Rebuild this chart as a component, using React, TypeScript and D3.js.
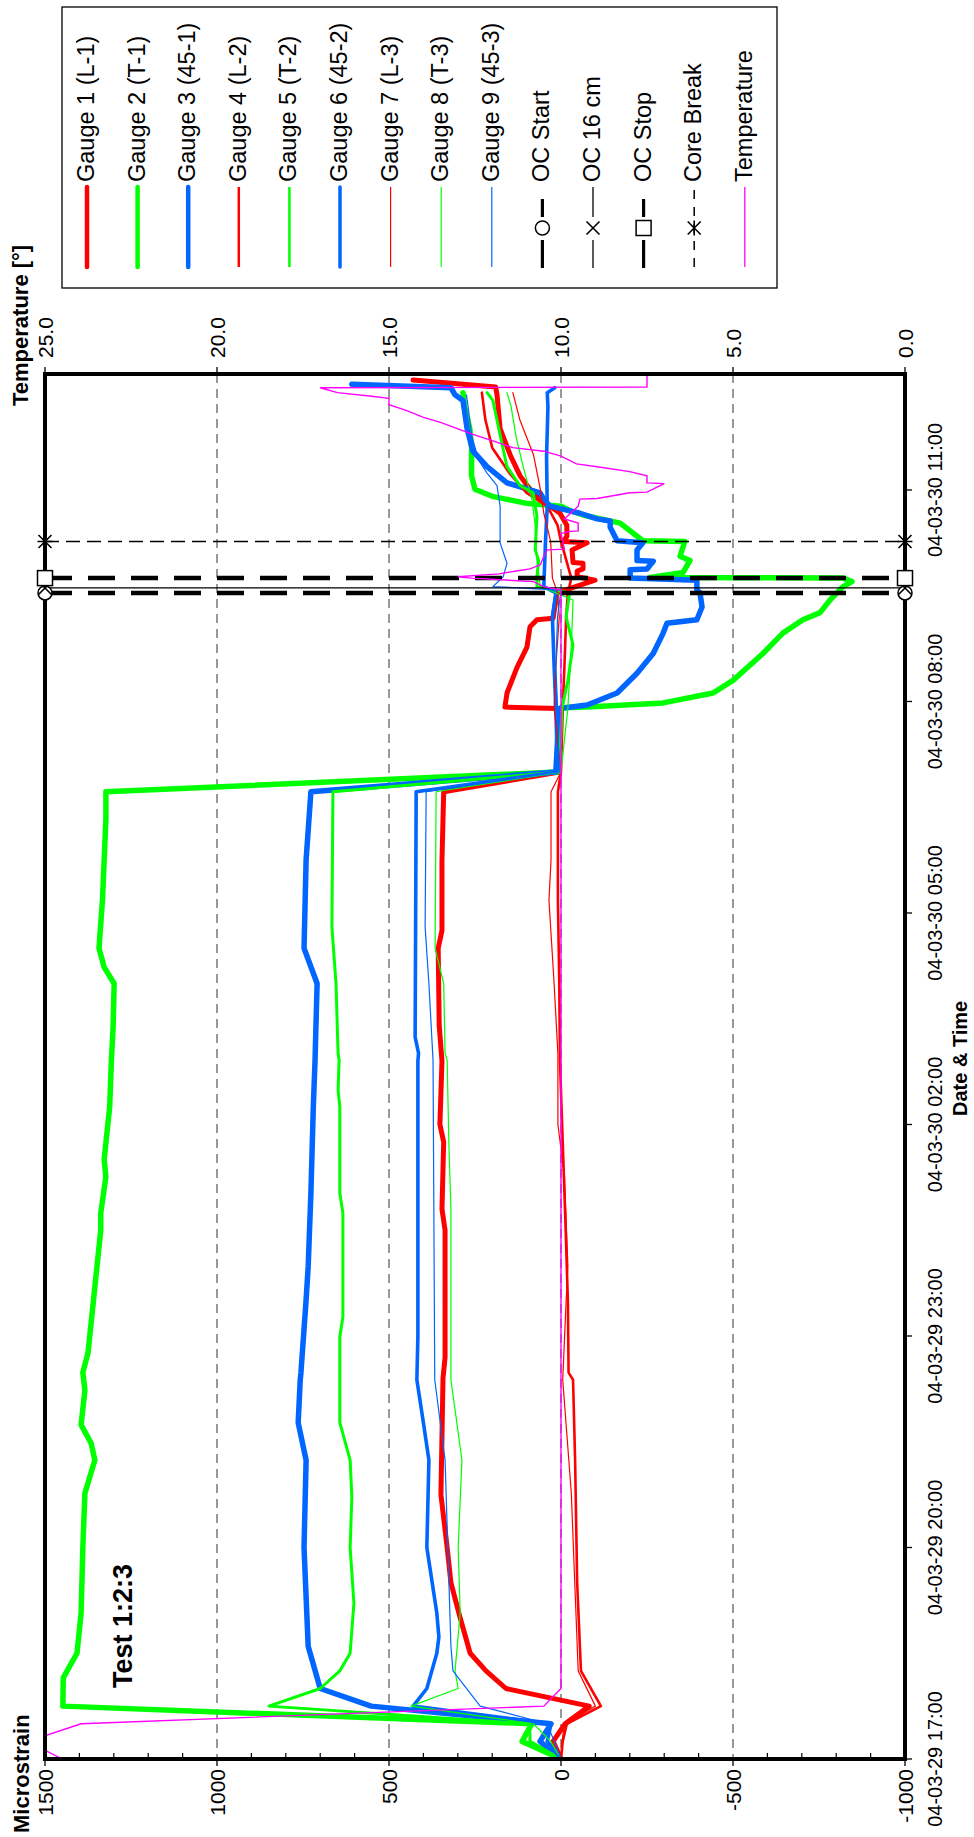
import React from "react";
import * as d3 from "d3";

// ---------- data (time = hours after 04-03-29 17:00, value = microstrain / °C) ----------
const T0 = new Date(2004, 2, 29, 17, 0);
const T_END = 19.645;
const hrs = (h: number) => new Date(T0.getTime() + h * 3600000);

const gauge1 = [[0,0],[0.25,23],[0.5,-12],[0.75,-82],[1.0,160],[1.25,218],[1.5,264],[2.0,293],[2.5,320],[3.0,331],[3.75,349],[5.4,343],[5.7,337],[7.5,337],[7.8,346],[8.75,341],[9.0,352],[9.9,346],[10.4,354],[11.5,357],[11.75,346],[12.75,346],[13.72,341],[14.0,5],[14.5,10],[14.9,10],[14.92,163],[15.12,157],[15.48,128],[15.77,99],[16.06,90],[16.16,70],[16.18,23],[16.44,15],[16.54,12],[16.72,-99],[16.77,-47],[16.85,-47],[16.88,-64],[16.96,-64],[16.97,-35],[17.15,-32],[17.25,-76],[17.27,-6],[17.34,-17],[17.5,-17],[17.67,3],[17.87,61],[18.01,90],[18.2,119],[18.5,148],[18.87,177],[19.35,186],[19.46,190],[19.56,430]];
const gauge2 = [[0,0],[0.25,113],[0.5,85],[0.75,1448],[1.15,1447],[1.3,1430],[1.5,1407],[2.07,1395],[3.0,1390],[3.77,1384],[4.24,1355],[4.48,1366],[4.74,1395],[5.23,1384],[5.48,1390],[5.76,1375],[6.51,1359],[7.5,1338],[7.74,1338],[8.26,1323],[8.5,1328],[9.25,1312],[9.91,1307],[10.38,1302],[11.0,1299],[11.23,1328],[11.5,1343],[12.18,1333],[12.75,1328],[13.32,1323],[13.72,1323],[14.0,9],[14.91,0],[14.92,-76],[14.98,-297],[15.12,-442],[15.3,-500],[15.68,-587],[15.97,-645],[16.16,-703],[16.26,-753],[16.44,-782],[16.63,-820],[16.7,-846],[16.75,-820],[16.76,-259],[16.83,-355],[17.0,-375],[17.06,-346],[17.27,-360],[17.28,-238],[17.53,-172],[17.63,-76],[17.7,-30],[17.77,0],[17.81,100],[17.91,200],[18.01,250],[18.2,260],[18.6,260],[18.87,265],[19.18,280],[19.38,285]];
const gauge3 = [[0,0],[0.25,61],[0.5,29],[0.75,552],[1.0,700],[1.6,735],[3.0,747],[4.24,741],[4.77,764],[5.38,758],[5.48,756],[6.51,741],[6.98,735],[8.03,727],[9.25,720],[9.91,715],[11.0,709],[11.5,747],[12.75,741],[13.72,727],[14.0,15],[14.9,5],[14.95,-76],[15.12,-163],[15.4,-221],[15.68,-268],[15.97,-297],[16.11,-308],[16.16,-395],[16.34,-410],[16.54,-404],[16.58,-395],[16.72,-395],[16.75,-201],[16.87,-201],[16.88,-250],[16.99,-268],[17.0,-221],[17.15,-221],[17.25,-238],[17.28,-163],[17.47,-143],[17.56,-143],[17.59,-105],[17.67,-55],[17.77,32],[17.87,50],[17.96,61],[18.1,157],[18.33,215],[18.55,256],[18.87,273],[19.27,285],[19.35,308],[19.45,320],[19.5,608]];
const gauge4 = [[0,0],[0.25,-5],[0.5,-17],[0.75,-116],[1.25,-58],[2.5,-47],[4.24,-41],[5.38,-35],[5.48,-22],[6.5,-20],[7.74,-12],[8.75,-5],[9.9,3],[11.0,5],[12.18,9],[13.72,9],[14.0,0],[14.9,-5],[15.5,-10],[16.2,-15],[16.54,-20],[16.75,-30],[17.27,0],[17.5,10],[17.77,40],[17.96,100],[18.24,150],[18.6,200],[19.0,220],[19.38,230]];
const gauge5 = [[0,0],[0.25,90],[0.5,91],[0.75,849],[1.0,700],[1.25,643],[1.5,613],[2.21,602],[3.0,613],[3.72,608],[4.24,613],[4.77,643],[5.38,643],[5.99,643],[6.27,634],[7.74,634],[8.03,643],[9.25,643],[9.49,648],[9.91,645],[10.01,648],[11.0,654],[11.8,666],[13.72,663],[14.0,5],[14.91,-3],[15.3,-20],[15.8,-35],[16.2,-15],[16.54,-25],[16.63,70],[16.77,70],[17.0,65],[17.15,75],[17.63,70],[17.96,81],[18.06,119],[18.33,157],[18.78,177],[19.27,198],[19.38,215]];
const gauge6 = [[0,0],[0.25,40],[0.5,29],[0.75,430],[1.0,390],[1.5,361],[1.73,355],[2.07,361],[3.0,390],[4.24,384],[4.77,400],[5.38,419],[6.0,416],[9.91,416],[10.01,414],[10.24,424],[13.72,421],[14.0,10],[14.91,15],[15.5,20],[16.2,25],[16.54,15],[16.63,50],[17.27,45],[17.77,40],[18.47,42],[19.18,38],[19.38,40],[19.45,18]];
const gauge7 = [[0,0],[0.25,-3],[0.5,-10],[0.75,-100],[1.25,-50],[2.5,-40],[3.77,-30],[5.38,-5],[6.5,-15],[7.0,-20],[8.26,-10],[9.0,9],[10.0,9],[11.0,20],[12.18,35],[12.75,29],[13.72,29],[14.0,0],[14.91,20],[15.5,15],[16.2,5],[16.54,10],[16.75,25],[17.27,30],[17.67,50],[18.01,60],[18.5,80],[19.0,120],[19.38,140]];
const gauge8 = [[0,0],[0.25,30],[0.5,80],[0.75,436],[1.0,299],[1.25,308],[2.07,293],[3.0,299],[4.24,288],[5.38,320],[6.0,320],[7.79,320],[8.74,326],[9.91,331],[10.01,337],[11.0,341],[11.5,366],[13.72,363],[14.0,0],[14.91,-20],[15.77,-30],[16.44,-35],[16.63,60],[17.0,70],[17.5,75],[17.88,85],[18.33,110],[18.74,130],[19.18,145],[19.38,157]];
const gauge9 = [[0,0],[0.25,20],[0.5,40],[0.75,235],[1.25,314],[1.6,320],[4.24,337],[5.38,367],[9.91,372],[11.0,384],[11.8,395],[13.72,392],[14.0,5],[14.91,10],[15.5,15],[16.2,10],[16.58,0],[16.63,198],[16.77,168],[16.96,157],[17.25,177],[17.77,177],[18.06,186],[18.24,215],[18.43,240],[18.78,260],[19.18,270],[19.35,275]];
const temperature = [[0,24.5],[0.25,25.5],[0.5,23.95],[0.75,10.5],[1.0,10.0],[16.58,10.0],[16.63,10.5],[16.7,10.8],[16.75,12.6],[16.77,13.0],[16.81,11.8],[16.85,11.3],[16.88,10.9],[16.94,10.6],[17.06,10.5],[17.15,10.4],[17.16,9.9],[17.38,10.0],[17.41,9.8],[17.42,9.5],[17.53,9.5],[17.59,9.9],[17.77,9.5],[17.87,9.45],[17.88,8.95],[17.96,8.0],[17.97,7.5],[18.09,7.0],[18.1,7.5],[18.2,7.5],[18.26,8.0],[18.33,8.95],[18.37,9.55],[18.48,10.0],[18.55,10.5],[18.6,11.4],[18.7,12.0],[18.77,12.45],[18.85,12.9],[18.96,13.5],[19.03,14.0],[19.13,14.5],[19.21,15.0],[19.3,15.0],[19.33,15.5],[19.38,16.5],[19.45,17.0],[19.46,7.5],[19.62,7.5]];

const strainTicks = [1500, 1000, 500, 0, -500, -1000];
const strainGrid = [1000, 500, 0, -500];
const tempTicks = [25, 20, 15, 10, 5, 0];
const timeTickHours = [0, 3, 6, 9, 12, 15, 18];
const eventHours = [16.54, 16.61, 16.75, 17.27]; // OC Start, OC 16 cm, OC Stop, Core Break

const gaugeNames = ["Gauge 1 (L-1)", "Gauge 2 (T-1)", "Gauge 3 (45-1)", "Gauge 4 (L-2)", "Gauge 5 (T-2)", "Gauge 6 (45-2)", "Gauge 7 (L-3)", "Gauge 8 (T-3)", "Gauge 9 (45-3)"];
const eventNames = ["OC Start", "OC 16 cm", "OC Stop", "Core Break"];

// ---------- styles ----------
const RED = "#ff0000", GREEN = "#00ff00", BLUE = "#0066ff", MAG = "#ff00ff";
const gaugeData = [gauge1, gauge2, gauge3, gauge4, gauge5, gauge6, gauge7, gauge8, gauge9];
const gaugeColors = [RED, GREEN, BLUE, RED, GREEN, BLUE, RED, GREEN, BLUE];
const gaugeWidths = [5, 5.5, 5.5, 2.6, 3, 3.6, 1.2, 1.2, 1.2];
const legendWidths = [4.5, 4.5, 4.5, 2.5, 2.5, 3.5, 1.2, 1.2, 1.2];
const eventStyles = [
  { w: 4.5, dash: "27,16", marker: "circle" },
  { w: 1.3, dash: "", marker: "x" },
  { w: 4.5, dash: "27,16", marker: "square" },
  { w: 1.5, dash: "14,7", marker: "asterisk" },
];

const W = 974, H = 1837;
const L = 45, R = 905, TOP = 374, BOT = 1759;
const FONT = "'Liberation Sans', Arial, Helvetica, sans-serif";

function VText(p: any) {
  return (
    <text transform={`translate(${p.x},${p.y}) rotate(-90)`} fontSize={p.size} textAnchor={p.anchor || "start"}
      fontWeight={p.bold ? "bold" : "normal"} fontFamily={FONT} fill="#000">{p.children}</text>
  );
}

function Marker(p: any) {
  const { kind, cx, cy, vertical } = p;
  const s = 6.5;
  if (kind === "circle") return <circle cx={cx} cy={cy} r={7} fill="#fff" stroke="#000" strokeWidth={1.5} />;
  if (kind === "square") return <rect x={cx - 7.5} y={cy - 7.5} width={15} height={15} fill="#fff" stroke="#000" strokeWidth={1.5} />;
  const xp = `M${cx - s},${cy - s}L${cx + s},${cy + s}M${cx - s},${cy + s}L${cx + s},${cy - s}`;
  if (kind === "x") return <path d={xp} stroke="#000" strokeWidth={1.6} fill="none" />;
  const arm = vertical ? `M${cx},${cy - s - 1}L${cx},${cy + s + 1}` : `M${cx - s - 1},${cy}L${cx + s + 1},${cy}`;
  return <path d={xp + arm} stroke="#000" strokeWidth={1.6} fill="none" />;
}

export default function App() {
  const y = d3.scaleTime().domain([T0, hrs(T_END)]).range([BOT, TOP]);
  const xs = d3.scaleLinear().domain([-1000, 1500]).range([R, L]);
  const xt = d3.scaleLinear().domain([0, 25]).range([R, L]);
  const strainLine = d3.line<number[]>().x((d) => xs(d[1])).y((d) => y(hrs(d[0])));
  const tempLine = d3.line<number[]>().x((d) => xt(d[1])).y((d) => y(hrs(d[0])));
  const fmt = d3.timeFormat("%y-%m-%d %H:%M");
  const minor = d3.range(-1000, 1501, 100).filter((v) => v % 500 !== 0);

  const legX = (i: number) => 87 + 50.6 * i;

  return (
    <svg width={W} height={H} viewBox={`0 0 ${W} ${H}`} style={{ position: "absolute", left: 0, top: 0, background: "#fff" }}>
      <defs>
        <clipPath id="plotclip"><rect x={L} y={TOP} width={R - L} height={BOT - TOP} /></clipPath>
      </defs>
      <rect x={0} y={0} width={W} height={H} fill="#fff" />

      {/* legend */}
      <rect x={62} y={7} width={715} height={281} fill="#fff" stroke="#000" strokeWidth={1.3} />
      {gaugeNames.map((n, i) => (
        <g key={n}>
          <line x1={legX(i)} x2={legX(i)} y1={187} y2={267} stroke={gaugeColors[i]} strokeWidth={legendWidths[i]} strokeLinecap={i < 3 || i === 5 ? "round" : "butt"} />
          <VText x={legX(i) + 7} y={182} size={23.5}>{n}</VText>
        </g>
      ))}
      {eventNames.map((n, j) => {
        const i = 9 + j;
        const st = eventStyles[j];
        const cx = legX(i);
        return (
          <g key={n}>
            {j === 3 ? (
              <line x1={cx} x2={cx} y1={190} y2={267} stroke="#000" strokeWidth={1.5} strokeDasharray="9,8" />
            ) : (
              <g>
                <line x1={cx} x2={cx} y1={j === 1 ? 187 : 199} y2={217} stroke="#000" strokeWidth={j === 1 ? 1.3 : 3.2} />
                <line x1={cx} x2={cx} y1={240} y2={268} stroke="#000" strokeWidth={j === 1 ? 1.3 : 3.2} />
              </g>
            )}
            <Marker kind={st.marker} cx={cx} cy={228} vertical />
            <VText x={cx + 7} y={182} size={23.5}>{n}</VText>
          </g>
        );
      })}
      <line x1={legX(13)} x2={legX(13)} y1={187} y2={267} stroke={MAG} strokeWidth={1.3} />
      <VText x={legX(13) + 7} y={182} size={23.5}>Temperature</VText>

      {/* grid */}
      {strainGrid.map((v) => (
        <line key={v} x1={xs(v)} x2={xs(v)} y1={TOP} y2={BOT} stroke="#333" strokeWidth={1} strokeDasharray="9,6" />
      ))}

      {/* series */}
      <g clipPath="url(#plotclip)">
        {gaugeData.map((d, i) => (
          <path key={i} d={strainLine(d) || ""} fill="none" stroke={gaugeColors[i]} strokeWidth={gaugeWidths[i]} strokeLinejoin="round" strokeLinecap="round" />
        ))}
        {eventHours.map((h, j) => (
          <line key={j} x1={xs(1500)} x2={xs(-1000)} y1={y(hrs(h))} y2={y(hrs(h))} stroke="#000" strokeWidth={eventStyles[j].w} strokeDasharray={eventStyles[j].dash || undefined} />
        ))}
        <path d={tempLine(temperature) || ""} fill="none" stroke={MAG} strokeWidth={1.4} strokeLinejoin="miter" />
      </g>

      {/* frame */}
      <rect x={L} y={TOP} width={R - L} height={BOT - TOP} fill="none" stroke="#000" strokeWidth={4} />

      {/* event markers on both frame edges */}
      {eventHours.map((h, j) => (
        <g key={j}>
          <Marker kind={eventStyles[j].marker} cx={xs(1500)} cy={y(hrs(h))} />
          <Marker kind={eventStyles[j].marker} cx={xs(-1000)} cy={y(hrs(h))} />
        </g>
      ))}

      {/* microstrain axis (bottom) */}
      {strainTicks.map((v) => (
        <g key={v}>
          <line x1={xs(v)} x2={xs(v)} y1={BOT} y2={BOT + 7} stroke="#000" strokeWidth={1.3} />
          <VText x={xs(v) + 7.5} y={BOT + 10} size={21} anchor="end">{String(v)}</VText>
        </g>
      ))}
      {minor.map((v) => (
        <line key={v} x1={xs(v)} x2={xs(v)} y1={BOT} y2={BOT - 6} stroke="#000" strokeWidth={1.2} />
      ))}
      <VText x={29} y={1833} size={22} bold>Microstrain</VText>

      {/* temperature axis (top) */}
      {tempTicks.map((t) => (
        <g key={t}>
          <line x1={xt(t)} x2={xt(t)} y1={TOP} y2={TOP - 7} stroke="#000" strokeWidth={1.3} />
          <VText x={xt(t) + 7.5} y={TOP - 16} size={21}>{d3.format(".1f")(t)}</VText>
        </g>
      ))}
      <VText x={28} y={406} size={22} bold>Temperature [°]</VText>

      {/* time axis (right) */}
      {timeTickHours.map((h) => (
        <g key={h}>
          <line x1={R} x2={R + 7} y1={y(hrs(h))} y2={y(hrs(h))} stroke="#000" strokeWidth={1.3} />
          <VText x={942} y={y(hrs(h))} size={20} anchor="middle">{fmt(hrs(h))}</VText>
        </g>
      ))}
      <VText x={967} y={1116} size={20} bold>Date &amp; Time</VText>

      <VText x={132} y={1688} size={27} bold>Test 1:2:3</VText>
    </svg>
  );
}
